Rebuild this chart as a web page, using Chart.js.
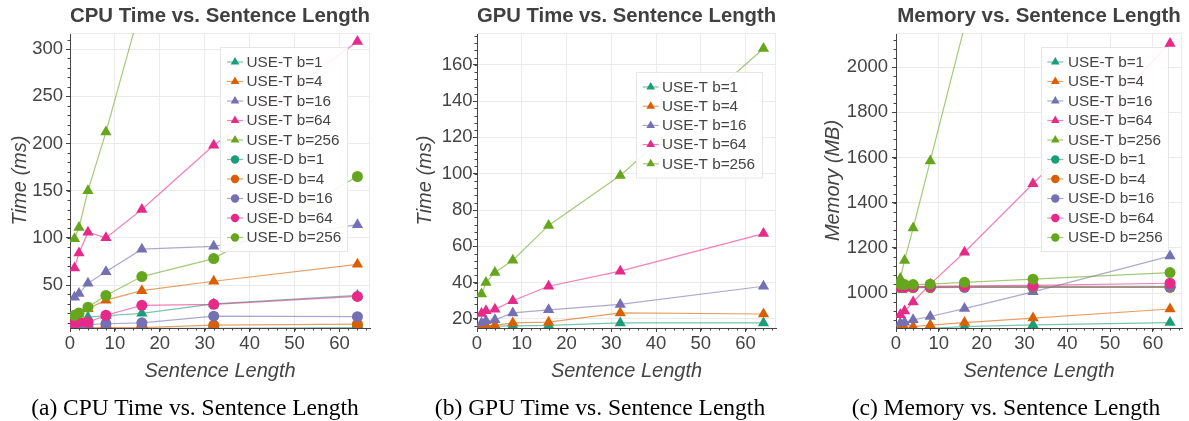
<!DOCTYPE html>
<html>
<head>
<meta charset="utf-8">
<script src="https://cdn.jsdelivr.net/npm/chart.js@4.4.1/dist/chart.umd.min.js"></script>
<style>
  html, body { margin: 0; padding: 0; background: #fff; }
  #page { position: relative; width: 1189px; height: 421px; overflow: hidden; }
  .panel { position: absolute; top: 0; height: 421px; }
  .caption {
    position: absolute; top: 394px; line-height: 26px;
    font-family: "Liberation Serif", "Times New Roman", serif; font-size: 23.5px;
    color: #000; white-space: nowrap; transform: translateX(-50%);
  }
</style>
</head>
<body>
<div id="page">
  <div class="panel" style="left:0;width:400px"><canvas id="cpuChart"></canvas></div>
  <div class="panel" style="left:400px;width:400px"><canvas id="gpuChart"></canvas></div>
  <div class="panel" style="left:800px;width:389px"><canvas id="memChart"></canvas></div>
  <div class="caption" style="left:195px">(a) CPU Time vs. Sentence Length</div>
  <div class="caption" style="left:600px">(b) GPU Time vs. Sentence Length</div>
  <div class="caption" style="left:1006px">(c) Memory vs. Sentence Length</div>
</div>
<script>
// x values and series names
const sentenceLengths = [1, 2, 4, 8, 16, 32, 64];
const seriesNames = ['USE-T b=1', 'USE-T b=4', 'USE-T b=16', 'USE-T b=64', 'USE-T b=256',
                     'USE-D b=1', 'USE-D b=4', 'USE-D b=16', 'USE-D b=64', 'USE-D b=256'];
const xTicks = [0, 10, 20, 30, 40, 50, 60];

// CPU time (ms)
const cpuT1   = [11, 13, 16, 17.5, 20, 30, 39];
const cpuT4   = [17, 19, 25, 34, 44, 54, 72];
const cpuT16  = [37, 41, 52, 64, 88, 91, 114];
const cpuT64  = [68, 84, 106, 100, 130, 198, 308];
const cpuT256 = [99, 111, 150, 212, 349, 690, 1380];
const cpuD1   = [3, 3, 3, 3, 4, 4, 5];
const cpuD4   = [4, 4, 5, 5, 5, 7.5, 8.5];
const cpuD16  = [7, 8, 8, 9, 10, 17, 16.5];
const cpuD64  = [9.5, 11, 10.5, 18, 28.5, 29.6, 38];
const cpuD256 = [18, 20.5, 26.5, 39, 59, 78, 165];
const cpuYTicks = [50, 100, 150, 200, 250, 300];

// GPU time (ms)
const gpuT1   = [15.5, 15.8, 16, 16.2, 16.4, 17.8, 17.8];
const gpuT4   = [16, 16.3, 16.5, 17.8, 18.2, 23.3, 22.7];
const gpuT16  = [17.8, 19, 19.5, 23.3, 25, 28, 38];
const gpuT64  = [23, 24.5, 25.3, 30, 38, 46.3, 67];
const gpuT256 = [33.7, 40, 45.6, 52.3, 71.5, 99, 169];
const gpuYTicks = [20, 40, 60, 80, 100, 120, 140, 160];

// Memory (MB)
const memT1   = [836, 838, 841, 845, 852, 860, 870];
const memT4   = [845, 848, 852, 859, 870, 890, 930];
const memT16  = [868, 871, 882, 897, 932, 1006, 1164];
const memT64  = [905, 921, 961, 1040, 1181, 1484, 2105];
const memT256 = [1065, 1145, 1288, 1585, 2180, 3000, 4500];
const memD1   = [1025, 1025, 1025, 1025, 1026, 1026, 1026];
const memD4   = [1026, 1026, 1026, 1026, 1027, 1027, 1027];
const memD16  = [1027, 1027, 1028, 1028, 1029, 1030, 1030];
const memD64  = [1028, 1028, 1029, 1030, 1032, 1035, 1044];
const memD256 = [1040, 1038, 1038, 1040, 1048, 1062, 1091];
const memYTicks = [1000, 1200, 1400, 1600, 1800, 2000];

const FONT = '"Liberation Sans", Arial, sans-serif';
const TEXT = '#444';
const palette = ['#1b9e77', '#d95f02', '#7570b3', '#e7298a', '#66a61e'];

function fade(hex, a) {
    const n = parseInt(hex.slice(1), 16);
    return `rgba(${n >> 16}, ${(n >> 8) & 255}, ${n & 255}, ${a})`;
}

function makeDatasets(seriesList) {
    return seriesList.map((values, i) => {
        const color = palette[i % 5];
        const isT = i < 5;
        return {
            label: seriesNames[i],
            data: values.map((v, j) => ({ x: sentenceLengths[j], y: v })),
            borderColor: fade(color, 0.6),
            borderWidth: 1.2,
            backgroundColor: color,
            pointBackgroundColor: color,
            pointBorderColor: color,
            pointBorderWidth: 0,
            pointStyle: isT ? 'triangle' : 'circle',
            pointRadius: isT ? 6.5 : 5.5,
            tension: 0,
            order: -i   // later series on top
        };
    });
}

function drawMarker(ctx, style, x, y, r) {
    ctx.beginPath();
    if (style === 'triangle') {
        let rad = 0;
        for (let k = 0; k < 3; k++) {
            const px = x + Math.sin(rad) * r, py = y - Math.cos(rad) * r;
            if (k === 0) ctx.moveTo(px, py); else ctx.lineTo(px, py);
            rad += Math.PI * 2 / 3;
        }
        ctx.closePath();
    } else {
        ctx.arc(x, y, r, 0, Math.PI * 2);
    }
    ctx.fill();
}

// legend box drawn inside the plot area
const boxLegend = {
    id: 'boxLegend',
    afterDraw(chart, args, opts) {
        const { ctx, chartArea: a } = chart;
        const items = chart.data.datasets;
        const left = a.left + opts.dx, top = a.top + opts.dy;
        const height = opts.padTop + opts.padBottom + (items.length - 1) * opts.rowHeight;
        ctx.save();
        ctx.fillStyle = 'rgba(255,255,255,0.9)';
        ctx.fillRect(left, top, opts.width, height);
        ctx.strokeStyle = '#e6e6e6';
        ctx.lineWidth = 1;
        ctx.strokeRect(Math.round(left) + 0.5, Math.round(top) + 0.5, opts.width - 1, height - 1);
        ctx.font = '15.3px ' + FONT;
        ctx.textBaseline = 'middle';
        items.forEach((ds, i) => {
            const cy = top + opts.padTop + i * opts.rowHeight;
            const cx = left + opts.symbolX;
            ctx.strokeStyle = ds.borderColor;
            ctx.lineWidth = 1.2;
            ctx.beginPath();
            ctx.moveTo(cx - 8, cy);
            ctx.lineTo(cx + 8, cy);
            ctx.stroke();
            ctx.fillStyle = ds.pointBackgroundColor;
            drawMarker(ctx, ds.pointStyle, cx, cy, ds.pointStyle === 'triangle' ? 5 : 4.2);
            ctx.fillStyle = TEXT;
            ctx.fillText(ds.label, left + opts.textX, cy + 0.5);
        });
        ctx.restore();
    }
};

// minor tick marks and light frame on top/right
const axisExtras = {
    id: 'axisExtras',
    beforeDatasetsDraw(chart, args, opts) {
        const { ctx, chartArea: a, scales: { x, y } } = chart;
        ctx.save();
        ctx.strokeStyle = '#ebebeb';
        ctx.lineWidth = 1;
        ctx.beginPath();
        ctx.moveTo(a.left, Math.round(a.top) + 0.5);
        ctx.lineTo(a.right, Math.round(a.top) + 0.5);
        ctx.moveTo(Math.round(a.right) - 0.5, a.top);
        ctx.lineTo(Math.round(a.right) - 0.5, a.bottom);
        ctx.stroke();
        ctx.strokeStyle = TEXT;
        ctx.beginPath();
        for (let k = Math.ceil(x.min / opts.xStep); k * opts.xStep <= x.max; k++) {
            const px = Math.round(x.getPixelForValue(k * opts.xStep)) + 0.5;
            ctx.moveTo(px, a.bottom);
            ctx.lineTo(px, a.bottom + 2.5);
        }
        for (let k = Math.ceil(y.min / opts.yStep); k * opts.yStep <= y.max; k++) {
            const py = Math.round(y.getPixelForValue(k * opts.yStep)) + 0.5;
            ctx.moveTo(a.left, py);
            ctx.lineTo(a.left - 2.5, py);
        }
        ctx.stroke();
        ctx.restore();
    }
};

function makeOptions(cfg) {
    const tickFont = { family: FONT, size: 18.5 };
    const titleFont = { family: FONT, size: 20, style: 'italic' };
    return {
        responsive: true,
        maintainAspectRatio: false,
        animation: false,
        layout: { padding: { left: 0, right: cfg.padRight, top: 0, bottom: 38 } },
        plugins: {
            legend: { display: false },
            tooltip: { enabled: false },
            title: {
                display: true, text: cfg.title, fullSize: false, color: '#404040',
                font: { family: FONT, size: 20.5, weight: 'bold' },
                padding: { top: 4, bottom: 4.4 }
            },
            boxLegend: cfg.legend,
            axisExtras: { xStep: 2, yStep: cfg.yMinor }
        },
        scales: {
            x: {
                type: 'linear', min: 0, max: 66.8,
                afterBuildTicks: s => { s.ticks = xTicks.map(v => ({ value: v })); },
                afterFit: s => { s.height = 55; },
                grid: { color: '#ebebeb', tickColor: TEXT, tickLength: 4 },
                border: { color: TEXT, width: 1 },
                ticks: { color: TEXT, font: tickFont, padding: 1, maxRotation: 0, callback: v => String(v) },
                title: { display: true, text: 'Sentence Length', color: TEXT, font: titleFont, padding: { top: 0, bottom: 0 } }
            },
            y: {
                type: 'linear', min: cfg.yMin, max: cfg.yMax,
                afterBuildTicks: s => { s.ticks = cfg.yTicks.map(v => ({ value: v })); },
                afterFit: s => { s.width = cfg.yWidth; },
                grid: { color: '#ebebeb', tickColor: TEXT, tickLength: 4 },
                border: { color: TEXT, width: 1 },
                ticks: { color: TEXT, font: tickFont, padding: cfg.yPad, callback: v => String(v) },
                title: { display: true, text: cfg.yTitle, color: TEXT, font: titleFont, padding: { top: cfg.yTitlePad, bottom: 0 } }
            }
        }
    };
}

Chart.register(boxLegend, axisExtras);

new Chart(document.getElementById('cpuChart'), {
    type: 'line',
    data: { datasets: makeDatasets([cpuT1, cpuT4, cpuT16, cpuT64, cpuT256, cpuD1, cpuD4, cpuD16, cpuD64, cpuD256]) },
    options: makeOptions({
        title: 'CPU Time vs. Sentence Length', yTitle: 'Time (ms)',
        yMin: 4.5, yMax: 317, yTicks: cpuYTicks, yMinor: 10,
        yWidth: 70, yPad: 3, yTitlePad: 8.5, padRight: 30,
        legend: { dx: 150, dy: 14, width: 128, padTop: 15, rowHeight: 19.5, padBottom: 14.5, symbolX: 15, textX: 26.5 }
    })
});

new Chart(document.getElementById('gpuChart'), {
    type: 'line',
    data: { datasets: makeDatasets([gpuT1, gpuT4, gpuT16, gpuT64, gpuT256]) },
    options: makeOptions({
        title: 'GPU Time vs. Sentence Length', yTitle: 'Time (ms)',
        yMin: 15, yMax: 177.5, yTicks: gpuYTicks, yMinor: 4,
        yWidth: 77, yPad: 0.5, yTitlePad: 13.5, padRight: 24,
        legend: { dx: 159, dy: 39, width: 127, padTop: 15, rowHeight: 19.2, padBottom: 14.7, symbolX: 14.7, textX: 26 }
    })
});

new Chart(document.getElementById('memChart'), {
    type: 'line',
    data: { datasets: makeDatasets([memT1, memT4, memT16, memT64, memT256, memD1, memD4, memD16, memD64, memD256]) },
    options: makeOptions({
        title: 'Memory vs. Sentence Length', yTitle: 'Memory (MB)',
        yMin: 846, yMax: 2151, yTicks: memYTicks, yMinor: 40,
        yWidth: 96, yPad: 4, yTitlePad: 21.5, padRight: 7,
        legend: { dx: 145, dy: 14, width: 128, padTop: 15, rowHeight: 19.5, padBottom: 14.5, symbolX: 14.3, textX: 27 }
    })
});
</script>
</body>
</html>
